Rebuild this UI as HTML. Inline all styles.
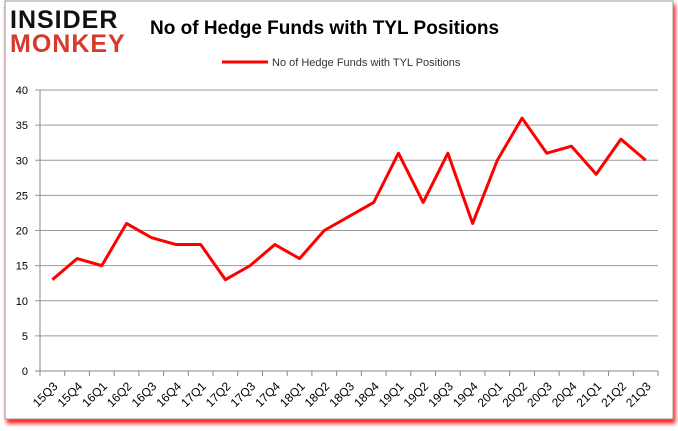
<!DOCTYPE html>
<html><head><meta charset="utf-8"><style>
body{margin:0;background:#fff;font-family:"Liberation Sans",Arial,sans-serif}
#wrap{position:relative;width:678px;height:431px;overflow:hidden}
</style></head><body>
<div id="wrap">
<svg width="678" height="431">
<defs><filter id="sh" x="-5%" y="-5%" width="110%" height="115%"><feDropShadow dx="2" dy="4" stdDeviation="2" flood-color="#f00" flood-opacity="0.9"/></filter></defs>
<rect x="5" y="1" width="668" height="418" fill="#fff" stroke="#999" filter="url(#sh)"/>
<text x="10" y="28" font-size="25" font-weight="900" fill="#111" style="letter-spacing:1px">INSIDER</text>
<text x="10" y="52" font-size="25" font-weight="900" fill="#d63a2a" style="letter-spacing:1px">MONKEY</text>
<text x="150" y="34" font-size="19" font-weight="bold" fill="#000">No of Hedge Funds with TYL Positions</text>
<line x1="222" y1="62" x2="268" y2="62" stroke="#f00" stroke-width="3"/>
<text x="272" y="66" font-size="11" fill="#333">No of Hedge Funds with TYL Positions</text>
<g id="axes"></g>
</svg>
</div>
<script>
const categories=["15Q3","15Q4","16Q1","16Q2","16Q3","16Q4","17Q1","17Q2","17Q3","17Q4","18Q1","18Q2","18Q3","18Q4","19Q1","19Q2","19Q3","19Q4","20Q1","20Q2","20Q3","20Q4","21Q1","21Q2","21Q3"];
const values=[13,16,15,21,19,18,18,13,15,18,16,20,22,24,31,24,31,21,30,36,31,32,28,33,30];
const yTicks=[0,5,10,15,20,25,30,35,40];
const NS="http://www.w3.org/2000/svg";
const g=document.getElementById('axes');
const X0=40,X1=658,Y0=371,Y1=90;
const bw=(X1-X0)/categories.length;
const x=i=>X0+bw*(i+0.5);
const y=v=>Y0-(v/40)*(Y0-Y1);
function mk(t,a){const e=document.createElementNS(NS,t);for(const k in a)e.setAttribute(k,a[k]);g.appendChild(e);return e;}
yTicks.forEach(v=>{
 const l=mk('line',{x1:X0-5,x2:X1,y1:y(v),y2:y(v),stroke:v===0?'#888':'#999','stroke-width':1});
 
 
 const t=mk('text',{x:X0-12,y:y(v)+4,'font-size':11,'text-anchor':'end',fill:'#000'});
 t.textContent=v;
 
 
});
const ax=mk('line',{x1:X0,x2:X0,y1:Y1,y2:Y0,stroke:'#888'});


categories.forEach((c,i)=>{
 const tk=mk('line',{x1:X0+bw*(i+1),x2:X0+bw*(i+1),y1:Y0,y2:Y0+5,stroke:'#888'});
 if(i===0){const t0=mk('line',{x1:X0,x2:X0,y1:Y0,y2:Y0+5,stroke:'#888'});}
 
 
 const t=mk('text',{x:x(i)+6,y:Y0+16,'font-size':12,'text-anchor':'end',fill:'#000',transform:`rotate(-45 ${x(i)+6} ${Y0+16})`});
 t.textContent=c;
 
 
});
const p=mk('polyline',{points:values.map((v,i)=>x(i)+','+y(v)).join(' '),fill:'none',stroke:'#f00','stroke-width':3,'stroke-linejoin':'round'});


</script>
</body></html>
